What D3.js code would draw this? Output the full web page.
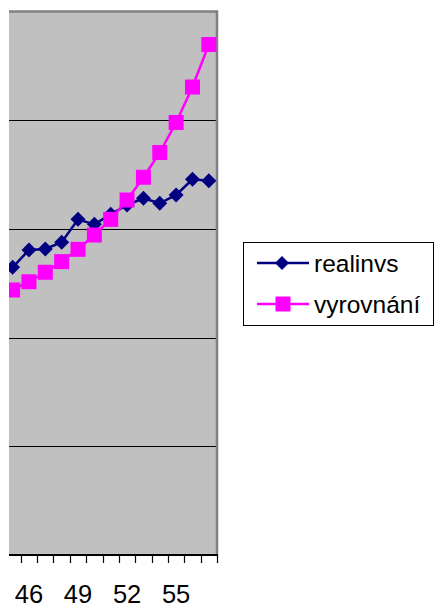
<!DOCTYPE html>
<html>
<head>
<meta charset="utf-8">
<script src="https://cdn.jsdelivr.net/npm/d3@7/dist/d3.min.js"></script>
<style>
  body { margin: 0; background: #fff; }
  svg { display: block; font-family: Arial, "Liberation Sans", sans-serif; }
</style>
</head>
<body>
<div id="chart"></div>
<script>
// categories (years) and series values
var categories = [45, 46, 47, 48, 49, 50, 51, 52, 53, 54, 55, 56, 57];
var realinvs = [264.7, 280.6, 281.5, 287.7, 308.8, 304.2, 313.4, 322.0, 328.2, 323.6, 331.2, 345.6, 344.3];
var vyrovnani = [243.8, 251.4, 260.1, 269.9, 281.2, 294.4, 308.8, 326.6, 347.5, 370.3, 397.9, 430.5, 469.6];
var tickLabels = [46, 49, 52, 55];
var gridValues = [100, 200, 300, 400];
var seriesNames = ["realinvs", "vyrovnání"];

var width = 435;
var height = 612;

var plot = { left: 9, right: 217, top: 11.5, bottom: 555 };
var band = 16.35;

var svg = d3.select("#chart")
  .append("svg")
  .attr("width", width)
  .attr("height", height);

var x = d3.scaleBand()
  .domain(categories)
  .range([plot.right - band * categories.length, plot.right])
  .padding(0);

var y = d3.scaleLinear()
  .domain([0, 500])
  .range([plot.bottom, plot.top]);

function cx(d, i) { return x(categories[i]) + x.bandwidth() / 2; }

svg.append("defs").append("clipPath")
  .attr("id", "plotClip")
  .append("rect")
  .attr("x", plot.left)
  .attr("y", 0)
  .attr("width", plot.right - plot.left + 2)
  .attr("height", plot.bottom);

// plot background
svg.append("rect")
  .attr("x", plot.left)
  .attr("y", plot.top)
  .attr("width", plot.right - plot.left)
  .attr("height", plot.bottom - plot.top)
  .attr("fill", "#c0c0c0");

// gridlines
svg.selectAll(".grid")
  .data(gridValues)
  .enter().append("line")
  .attr("class", "grid")
  .attr("x1", plot.left)
  .attr("x2", plot.right - 1)
  .attr("y1", function (d) { return Math.round(y(d)) + 0.5; })
  .attr("y2", function (d) { return Math.round(y(d)) + 0.5; })
  .attr("stroke", "#000")
  .attr("stroke-width", 1);

// top and right border
svg.append("path")
  .attr("d", "M" + plot.left + "," + plot.top + "H" + plot.right + "V" + plot.bottom)
  .attr("fill", "none")
  .attr("stroke", "#808080")
  .attr("stroke-width", 2.5);

// x axis line and tick marks between categories
svg.append("line")
  .attr("x1", plot.left)
  .attr("x2", plot.right + 1)
  .attr("y1", plot.bottom)
  .attr("y2", plot.bottom)
  .attr("stroke", "#000")
  .attr("stroke-width", 2);

var bounds = categories.map(function (c) { return x(c); }).concat([plot.right]);
svg.selectAll(".tick-mark")
  .data(bounds.filter(function (b) { return b >= plot.left; }))
  .enter().append("line")
  .attr("class", "tick-mark")
  .attr("x1", function (d) { return Math.round(d) + 0.5; })
  .attr("x2", function (d) { return Math.round(d) + 0.5; })
  .attr("y1", plot.bottom)
  .attr("y2", plot.bottom + 8)
  .attr("stroke", "#000")
  .attr("stroke-width", 1.2);

var xAxis = d3.axisBottom(x)
  .tickValues(tickLabels)
  .tickSize(0)
  .tickPadding(0);

var gX = svg.append("g")
  .attr("transform", "translate(0," + plot.bottom + ")")
  .call(xAxis);
gX.select(".domain").remove();
gX.selectAll("text")
  .attr("dy", null)
  .attr("y", 48)
  .attr("font-size", 25.5)
  .attr("font-family", "Arial, 'Liberation Sans', sans-serif")
  .attr("fill", "#000");

// series
var layer = svg.append("g").attr("clip-path", "url(#plotClip)");

var line = d3.line()
  .x(cx)
  .y(function (d) { return y(d); });

layer.append("path")
  .datum(realinvs)
  .attr("d", line)
  .attr("fill", "none")
  .attr("stroke", "#000080")
  .attr("stroke-width", 2.5);

layer.append("path")
  .datum(vyrovnani)
  .attr("d", line)
  .attr("fill", "none")
  .attr("stroke", "#ff00ff")
  .attr("stroke-width", 2.5);

var diamond = "M0,-7.5L7.5,0L0,7.5L-7.5,0Z";

layer.selectAll(".dia")
  .data(realinvs)
  .enter().append("path")
  .attr("class", "dia")
  .attr("d", diamond)
  .attr("transform", function (d, i) { return "translate(" + cx(d, i) + "," + y(d) + ")"; })
  .attr("fill", "#000080");

layer.selectAll(".sq")
  .data(vyrovnani)
  .enter().append("rect")
  .attr("class", "sq")
  .attr("x", function (d, i) { return cx(d, i) - 7.5; })
  .attr("y", function (d) { return y(d) - 7.5; })
  .attr("width", 15)
  .attr("height", 15)
  .attr("fill", "#ff00ff");

// legend
var legend = svg.append("g");
legend.append("rect")
  .attr("x", 243.5)
  .attr("y", 242.5)
  .attr("width", 190)
  .attr("height", 83)
  .attr("fill", "#fff")
  .attr("stroke", "#000")
  .attr("stroke-width", 1);

var legendRows = [
  { name: seriesNames[0], color: "#000080", cy: 263, shape: "diamond" },
  { name: seriesNames[1], color: "#ff00ff", cy: 304, shape: "square" }
];

legendRows.forEach(function (r) {
  legend.append("line")
    .attr("x1", 257).attr("x2", 309)
    .attr("y1", r.cy).attr("y2", r.cy)
    .attr("stroke", r.color)
    .attr("stroke-width", 2.5);
  if (r.shape === "diamond") {
    legend.append("path")
      .attr("d", "M0,-7L7,0L0,7L-7,0Z")
      .attr("transform", "translate(282," + r.cy + ")")
      .attr("fill", r.color);
  } else {
    legend.append("rect")
      .attr("x", 283 - 7.5).attr("y", r.cy - 7.5)
      .attr("width", 15).attr("height", 15)
      .attr("fill", r.color);
  }
  legend.append("text")
    .attr("x", 314)
    .attr("y", r.cy + 9)
    .attr("font-size", 24.5)
    .attr("fill", "#000")
    .text(r.name);
});
</script>
</body>
</html>
